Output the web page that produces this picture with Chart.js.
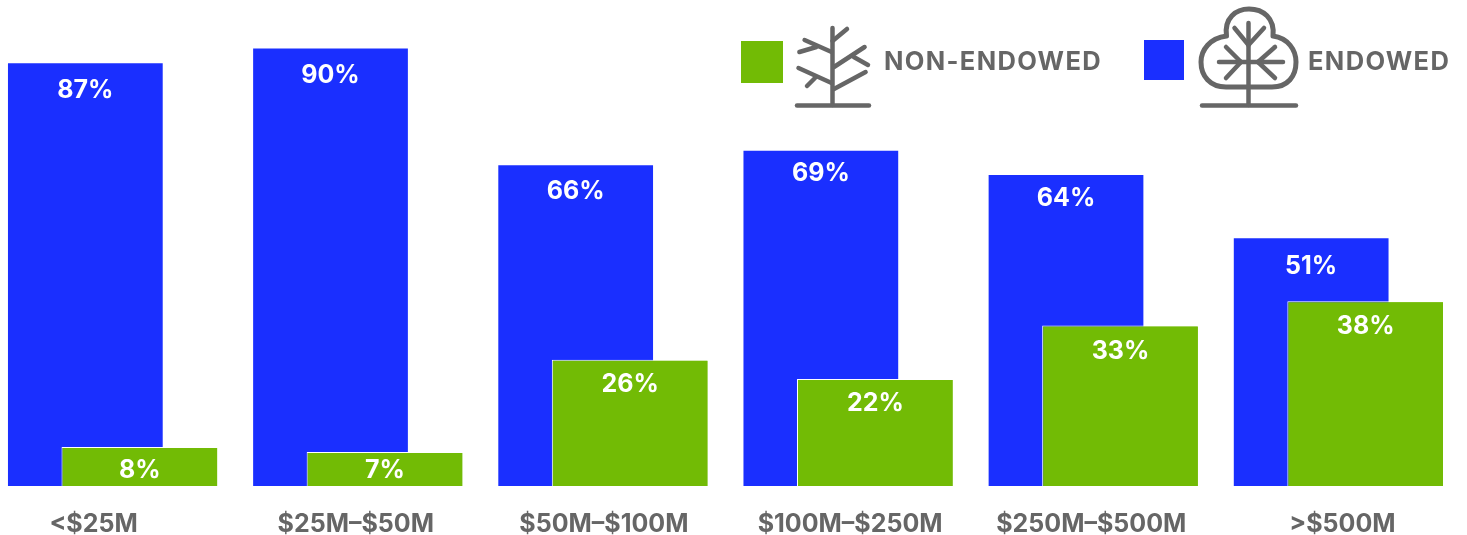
<!DOCTYPE html>
<html><head><meta charset="utf-8">
<style>html,body{margin:0;padding:0;background:#fff;overflow:hidden;width:1467px;height:535px}
#w{position:absolute;left:-10px;top:0;width:1477px;height:535px}</style>
<script src="https://cdn.jsdelivr.net/npm/chart.js@4/dist/chart.umd.js"></script>
</head><body><div id="w"><canvas id="c"></canvas></div>
<script>
const categories = ['<$25M','$25M–$50M','$50M–$100M','$100M–$250M','$250M–$500M','>$500M'];
const endowed = [87,90,66,69,64,51];
const nonEndowed = [8,7,26,22,33,38];
const seriesNames = ['NON-ENDOWED','ENDOWED'];
const BLUE='#1a2fff', GREEN='#72bb05', GRAY='#666666', FONT='Inter, sans-serif';

const overlay = {
  id:'overlay',
  afterDatasetsDraw(chart){
    const ctx=chart.ctx;
    chart.getDatasetMeta(1).controller.draw();
    ctx.save();
    ctx.fillStyle='#fff';ctx.textAlign='center';ctx.textBaseline='middle';
    ctx.font='700 25px '+FONT;
    const blueDrop=[27,27,26,23,24,28], greenDrop=[23.5,19,25,24,26,25];
    chart.getDatasetMeta(0).data.forEach((b,i)=>{ctx.fillText(endowed[i]+'%',b.x,b.y+blueDrop[i]);});
    chart.getDatasetMeta(1).data.forEach((b,i)=>{ctx.fillText(nonEndowed[i]+'%',b.x,b.y+greenDrop[i]);});
    ctx.restore();
    // legend
    ctx.save();ctx.translate(10,0);
    ctx.fillStyle=GREEN;ctx.fillRect(741,41,42,42);
    ctx.fillStyle=BLUE;ctx.fillRect(1144,40,40,40);
    ctx.fillStyle=GRAY;ctx.font='700 25.5px '+FONT;ctx.letterSpacing='1.35px';ctx.textBaseline='middle';ctx.textAlign='left';
    ctx.fillText(seriesNames[0],884,62);
    ctx.fillText(seriesNames[1],1308,62);
    ctx.letterSpacing='0px';
    ctx.strokeStyle=GRAY;ctx.lineCap='round';ctx.lineJoin='round';ctx.lineWidth=4.5;
    const seg=a=>{ctx.beginPath();ctx.moveTo(a[0],a[1]);ctx.lineTo(a[2],a[3]);ctx.stroke();};
    [[832.5,28,832.5,105],[832.5,41,847,29],[831.6,52,804.6,40],[816.4,47,799.4,52],
     [834,67,864.6,47],[853.8,57,868,65],[831.6,83,798.5,68],[815,78,807,86],[834,89,865.6,72],[797,105.5,869,105.5]].forEach(seg);
    [[1248.5,23,1248.5,105],[1234.5,28,1248.5,45],[1264,28,1248.5,45],[1219,62,1283,62],
     [1226,47,1241,62],[1275,47,1258,62],[1226,78,1241,62],[1275,78,1258,62],[1202,105.5,1296,105.5]].forEach(seg);
    ctx.lineWidth=5;
    ctx.beginPath();ctx.moveTo(1226.5,36);
    ctx.bezierCurveTo(1224,18,1236,9,1249,9);ctx.bezierCurveTo(1263,9,1275,18,1273,36);
    ctx.bezierCurveTo(1288,38,1296,50,1296,62);ctx.bezierCurveTo(1296,76,1288,87,1272,87);
    ctx.lineTo(1226,87);
    ctx.bezierCurveTo(1210,87,1201,76,1201,62);ctx.bezierCurveTo(1201,50,1210,38,1226.5,36);
    ctx.closePath();ctx.stroke();
    ctx.restore();
  }
};
new Chart(document.getElementById('c'),{
  type:'bar',
  data:{labels:categories,datasets:[
    {label:'ENDOWED',data:endowed,backgroundColor:BLUE,borderWidth:0,barPercentage:2.84},
    {label:'NON-ENDOWED',data:nonEndowed,backgroundColor:GREEN,borderColor:'#ffffff',borderWidth:1,barPercentage:2.875}
  ]},
  options:{
    responsive:true,maintainAspectRatio:false,animation:false,
    layout:{padding:{left:0,right:6,top:0,bottom:0}},
    categoryPercentage:0.4445,
    plugins:{legend:{display:false},tooltip:{enabled:false}},
    scales:{
      y:{display:false,min:0,max:100},
      x:{grid:{display:false},border:{display:false},
         afterFit(s){
           s.height=49;
           const nudge=[-19,-2,1,2,-2,4], base=Object.getPrototypeOf(s)._computeLabelItems;
           s._computeLabelItems=function(area){
             const items=base.call(this,area);
             items.forEach((it,i)=>{it.options.translation[0]+=nudge[i];});
             return items;
           };
         },
         ticks:{color:GRAY,font:{family:FONT,size:25,weight:'700'},padding:15,maxRotation:0,autoSkip:false}}
    }
  },
  plugins:[overlay]
});
</script></body></html>
